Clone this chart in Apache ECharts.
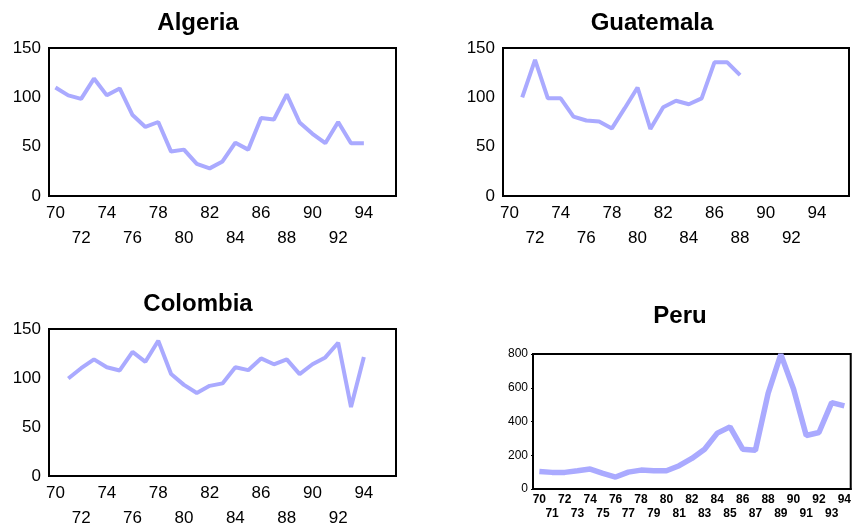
<!DOCTYPE html>
<html>
<head>
<meta charset="utf-8">
<script src="https://cdn.jsdelivr.net/npm/echarts@6/dist/echarts.min.js"></script>
<style>html,body{margin:0;padding:0;background:#fff}#c{width:854px;height:531px}</style>
</head>
<body>
<div id="c"></div>
<script>
// Categories (years)
var years27 = ['70','71','72','73','74','75','76','77','78','79','80','81','82','83','84','85','86','87','88','89','90','91','92','93','94','95','96'];
var years25 = ['70','71','72','73','74','75','76','77','78','79','80','81','82','83','84','85','86','87','88','89','90','91','92','93','94'];
// Tick labels
var wideTickLabels = ['70','72','74','76','78','80','82','84','86','88','90','92','94'];
var peruTickLabels = years25;
var yTicks150 = [0, 50, 100, 150];
var yTicks800 = [0, 200, 400, 600, 800];
// Series values (index per year, '-' = no data)
var algeria = [110,102,98.5,119,102,109,82,70,75,45,47,32.5,28,35,54,47,79,77.5,103,74.5,63,53.5,75,53.5,53.5];
var guatemala = ['-',100,138,99,99,80.5,76.5,75.5,68.5,89,110,68,90,96.5,93,99,135.5,135.5,122.5];
var colombia = ['-',99.5,110,119,111,107.7,126.6,116.5,138,104,93,84.7,92,94.5,111,108,120,114,119,104,114,121,136,70.4,121.5];
var peru = [104,98.5,98.5,108,118,92.6,71,100,112,108,108,138,181,236,331,368,236,229,567,798,593,317,335,512,493];

var chart = echarts.init(document.getElementById('c'), null, {renderer: 'canvas'});
var FONT = '"Liberation Sans", Arial, sans-serif';
var lineColor = '#aaaaff';

function wideFormatter(value) {
  var k = wideTickLabels.indexOf(value);
  if (k < 0) return '';
  return (k % 2 === 0) ? value : '\n' + value;
}
function peruFormatter(value) {
  var k = peruTickLabels.indexOf(value);
  if (k < 0) return '';
  return (k % 2 === 0) ? value : '\n' + value;
}

var grids = [
  {left: 49, top: 48, width: 347, height: 148},
  {left: 503, top: 48, width: 346, height: 148},
  {left: 49, top: 329, width: 347, height: 148},
  {left: 533, top: 354, width: 320, height: 135}
];
grids.forEach(function (g) { g.show = true; g.borderColor = '#000'; g.borderWidth = 2; g.backgroundColor = 'transparent'; });

function xAx(i, data, peruStyle) {
  return {
    type: 'category', gridIndex: i, data: data, boundaryGap: true,
    axisLine: {show: true, lineStyle: {color: '#000', width: 2}},
    axisTick: {show: false},
    splitLine: {show: false},
    axisLabel: peruStyle ? {
      interval: 0, formatter: peruFormatter, margin: 4, color: '#000',
      fontFamily: FONT, fontSize: 12, fontWeight: 'bold', lineHeight: 13.5
    } : {
      interval: 0, formatter: wideFormatter, margin: 5, color: '#000',
      fontFamily: FONT, fontSize: 17, lineHeight: 25
    }
  };
}
function yAx(i, ticks, peruStyle) {
  return {
    type: 'value', gridIndex: i, min: ticks[0], max: ticks[ticks.length - 1],
    interval: ticks[1] - ticks[0],
    axisLine: {show: true, lineStyle: {color: '#000', width: 2}},
    axisTick: {show: peruStyle, length: 2, lineStyle: {color: '#000'}},
    splitLine: {show: false},
    axisLabel: {color: '#000', fontFamily: FONT, fontSize: peruStyle ? 12 : 17, margin: peruStyle ? 5 : 8}
  };
}
function titleAt(text, x, y) {
  return {text: text, left: x, top: y, textAlign: 'center', padding: 0,
    textStyle: {fontFamily: FONT, fontSize: 24, fontWeight: 'bold', color: '#000'}};
}
function lineSeries(i, data, w) {
  return {type: 'line', xAxisIndex: i, yAxisIndex: i, data: data, symbol: 'none',
    smooth: false, lineStyle: {color: lineColor, width: w}, itemStyle: {color: lineColor}, animation: false};
}

chart.setOption({
  animation: false,
  title: [
    titleAt('Algeria', 198, 11),
    titleAt('Guatemala', 652, 11),
    titleAt('Colombia', 198, 292),
    titleAt('Peru', 680, 304)
  ],
  grid: grids,
  xAxis: [xAx(0, years27), xAx(1, years27), xAx(2, years27), xAx(3, years25, true)],
  yAxis: [yAx(0, yTicks150), yAx(1, yTicks150), yAx(2, yTicks150), yAx(3, yTicks800, true)],
  series: [
    lineSeries(0, algeria, 4),
    lineSeries(1, guatemala, 4),
    lineSeries(2, colombia, 4),
    lineSeries(3, peru, 5.5)
  ]
});
</script>
</body>
</html>
